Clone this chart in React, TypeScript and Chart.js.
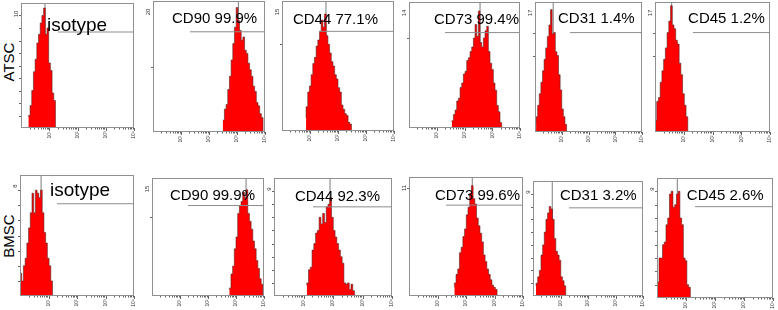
import React, { useEffect, useRef } from "react";
import { Chart, registerables } from "chart.js";
Chart.register(...registerables);

// ---------- data ----------
const BIN = 0.06; // histogram bin width in log decades
const xTickLabels = ["10¹", "10²", "10³", "10⁴"];
const rowLabels = ["ATSC", "BMSC"];

const atscLabels = ["isotype", "CD90 99.9%", "CD44 77.1%", "CD73 99.4%", "CD31 1.4%", "CD45 1.2%"];
const bmscLabels = ["isotype", "CD90 99.9%", "CD44 92.3%", "CD73 99.6%", "CD31 3.2%", "CD45 2.6%"];
const atscYMax = [10, 20, 15, 14, 17, 17];
const bmscYMax = [8, 15, 9, 11, 9, 9];

// first-bin start (decades), peak spike position (decades), gate start (decades)
const atscStart = [0.26, 2.49, 0.86, 1.54, 0.04, 0.0];
const bmscStart = [0.0, 2.76, 1.11, 1.59, 0.11, 0.01];
const atscSpike = [0.85, 3.05, 1.57, 2.56, 0.68, 0.58];
const bmscSpike = [0.74, 3.36, 1.9, 2.22, 0.7, 0.7];
const atscGate = [1.31, 1.32, 1.32, 1.3, 1.31, 1.32];
const bmscGate = [1.3, 1.29, 1.32, 1.3, 1.31, 1.31];

const atscIsotype = [0.9, 1.0, 1.8, 3.0, 4.5, 5.5, 6.8, 7.5, 8.4, 9.0, 9.6, 7.5, 8.0, 5.2, 4.6, 2.8, 2.2];
const atscCD90 = [1.8, 1.8, 3.5, 4.2, 6.5, 8.5, 11, 13.5, 16, 19, 17, 15.5, 14, 14.5, 12.5, 12, 10.5, 9.5, 8.5, 7, 6.2, 4.5, 4, 2.8, 2.2];
const atscCD44 = [1.5, 2.8, 4.5, 5.2, 6.5, 7.8, 8.5, 9.8, 10.5, 11.5, 12.8, 12, 13.5, 11, 10, 9, 8, 7.5, 6.5, 6, 5, 4.5, 3, 2.5, 2, 1.8, 1, 0.8];
const atscCD73 = [0.7, 0.8, 1.5, 2, 3, 3.3, 4.5, 5, 6, 6.3, 7.5, 7.8, 8.5, 9, 10, 11.5, 10.2, 13, 9.5, 9, 10, 10.8, 11.3, 8.5, 7.2, 6.5, 5, 4.2, 2.5, 1.8, 0.6];
const atscCD31 = [1, 2, 3.5, 5, 6.5, 8, 9.5, 11, 12.5, 14, 16, 12.8, 13, 10.5, 10, 7.5, 5.5, 3, 2, 1];
const atscCD45 = [1, 1.5, 4, 4.5, 6.5, 8, 9.5, 11, 13, 14.5, 16.5, 14, 13.5, 12, 11.5, 9, 7.5, 5, 3.5, 2];

const bmscIsotype = [2, 1.5, 1, 2, 2.5, 3.5, 4.5, 5.5, 6.8, 5.5, 7, 6.8, 6.5, 7, 5.5, 4.2, 3.5, 2.5, 2, 1];
const bmscCD90 = [0.8, 1, 2.8, 3.8, 6, 7.5, 10.5, 11.5, 12, 13.2, 12.5, 13.5, 10.5, 9.5, 8.5, 7, 6, 4.5, 3.5, 2.2, 1.5];
const bmscCD44 = [0.8, 1, 2, 2.2, 3.5, 4, 4.8, 5, 6, 5.5, 6.3, 5.6, 6.8, 7, 7.5, 6, 5, 4.5, 4, 3.5, 3, 2.5, 1, 0.9, 1, 0.5, 0.9, 0.4];
const bmscCD73 = [0.8, 1.2, 2, 2.5, 4, 4.5, 5.5, 6.2, 7.5, 8.2, 9.5, 10.2, 9, 8.5, 7.2, 6.5, 5.8, 5, 3.8, 3.2, 2.5, 2, 1.5, 1, 0.8, 0.6];
const bmscCD31 = [0.8, 1, 1.5, 2, 3.2, 4, 5, 6, 6.5, 7, 6.8, 6, 4.5, 3.5, 3.2, 2.8, 1.5, 1.2, 0.8];
const bmscCD45 = [1, 1.2, 3, 3, 4, 4.2, 5.5, 6, 7.8, 8, 6.8, 7, 7.8, 8, 6, 5.5, 3, 2.8, 1, 0.8];

const atscCounts = [atscIsotype, atscCD90, atscCD44, atscCD73, atscCD31, atscCD45];
const bmscCounts = [bmscIsotype, bmscCD90, bmscCD44, bmscCD73, bmscCD31, bmscCD45];

// ---------- layout ----------
type Layout = {
  box: [number, number, number, number]; // l, t, r, b of plot area
  labelAt: [number, number]; // decade, value (text baseline-left)
  labelSize: number;
  gateY: number;
  yTicks: number[];
};

const atscLayout: Layout[] = [
  { box: [21, 3, 134, 128], labelAt: [0.92, 7.8], labelSize: 19, gateY: 7.68, yTicks: [1, 2, 3, 4, 5, 6, 7, 8, 9] },
  { box: [153, 1, 265, 132], labelAt: [0.68, 16.6], labelSize: 15, gateY: 15.3, yTicks: [10] },
  { box: [282, 1, 394, 131], labelAt: [0.39, 12.4], labelSize: 15, gateY: 11.5, yTicks: [10] },
  { box: [409, 2, 520, 128], labelAt: [0.9, 11.6], labelSize: 15, gateY: 10.6, yTicks: [10] },
  { box: [535, 2, 642, 132], labelAt: [0.86, 14.3], labelSize: 15, gateY: 13.0, yTicks: [10, 13] },
  { box: [655, 2, 770, 132], labelAt: [1.15, 14.2], labelSize: 15, gateY: 13.0, yTicks: [10, 13] },
];
const bmscLayout: Layout[] = [
  { box: [20, 175, 134, 296], labelAt: [1.05, 6.6], labelSize: 19, gateY: 6.1, yTicks: [1, 2, 3, 4, 5, 6, 7] },
  { box: [152, 178, 264, 296], labelAt: [0.64, 12.2], labelSize: 15, gateY: 11.5, yTicks: [10] },
  { box: [274, 178, 392, 296], labelAt: [0.71, 7.26], labelSize: 15, gateY: 6.8, yTicks: [1, 2, 3, 4, 5, 6, 7, 8] },
  { box: [409, 177, 523, 296], labelAt: [0.91, 8.9], labelSize: 15, gateY: 8.4, yTicks: [10] },
  { box: [533, 181, 643, 296], labelAt: [0.98, 7.5], labelSize: 15, gateY: 6.9, yTicks: [1, 2, 3, 4, 5, 6, 7, 8] },
  { box: [657, 178, 773, 298], labelAt: [1.03, 7.37], labelSize: 15, gateY: 6.85, yTicks: [1, 2, 3, 4, 5, 6, 7, 8] },
];

const PAD = { left: 16, right: 4, top: 4, bottom: 14 };
const FONT = '"Liberation Sans", Arial, Helvetica, sans-serif';

type Spec = {
  counts: number[];
  start: number;
  spike: number;
  gate: number;
  yMax: number;
  label: string;
  layout: Layout;
};

function Panel({ spec }: { spec: Spec }) {
  const ref = useRef<HTMLCanvasElement>(null);
  const [l, t, r, b] = spec.layout.box;
  const w = r - l + PAD.left + PAD.right;
  const h = b - t + PAD.top + PAD.bottom;

  useEffect(() => {
    const hist = spec.counts.map((c, i) => ({ x: spec.start + i * BIN, y: c }));
    hist.push({ x: spec.start + spec.counts.length * BIN, y: 0 });

    const frame = {
      id: "frame",
      afterDraw(chart: any) {
        const { ctx, chartArea: a, scales } = chart;
        const xs = scales.x;
        const ys = scales.y;
        ctx.save();
        // box
        ctx.strokeStyle = "#8f8f8f";
        ctx.lineWidth = 1;
        ctx.strokeRect(
          Math.round(a.left) + 0.5,
          Math.round(a.top) + 0.5,
          Math.round(a.right - a.left) - 1,
          Math.round(a.bottom - a.top) - 1
        );
        // y ticks
        ctx.strokeStyle = "#666";
        for (const v of spec.layout.yTicks) {
          const py = Math.round(ys.getPixelForValue(v)) + 0.5;
          ctx.beginPath();
          ctx.moveTo(a.left - 2, py);
          ctx.lineTo(a.left, py);
          ctx.stroke();
        }
        // x log ticks
        for (let d = 0; d < 4; d++) {
          for (let k = 2; k <= 10; k++) {
            const px = Math.round(xs.getPixelForValue(d + Math.log10(k))) + 0.5;
            const len = k === 10 ? 3 : 1.5;
            ctx.beginPath();
            ctx.moveTo(px, a.bottom);
            ctx.lineTo(px, a.bottom + len);
            ctx.stroke();
          }
        }
        // y max label (rotated)
        ctx.fillStyle = "#333";
        ctx.font = `6px ${FONT}`;
        ctx.textAlign = "center";
        ctx.textBaseline = "middle";
        ctx.save();
        ctx.translate(a.left - 5, a.top + 11);
        ctx.rotate(-Math.PI / 2);
        ctx.fillText(String(spec.yMax), 0, 0);
        ctx.restore();
        // x tick labels
        ctx.font = `5px ${FONT}`;
        xTickLabels.forEach((txt, i) => {
          const px = xs.getPixelForValue(i + 1);
          ctx.save();
          ctx.translate(px, a.bottom + 7);
          ctx.rotate(-Math.PI / 2);
          ctx.fillText(txt, 0, 0);
          ctx.restore();
        });
        // panel label
        ctx.fillStyle = "#000";
        ctx.font = `${spec.layout.labelSize}px ${FONT}`;
        ctx.textAlign = "left";
        ctx.textBaseline = "alphabetic";
        ctx.fillText(
          spec.label,
          xs.getPixelForValue(spec.layout.labelAt[0]),
          ys.getPixelForValue(spec.layout.labelAt[1])
        );
        ctx.restore();
      },
    };

    const chart = new Chart(ref.current as HTMLCanvasElement, {
      type: "line",
      data: {
        datasets: [
          {
            data: [
              { x: spec.gate, y: spec.layout.gateY },
              { x: 4, y: spec.layout.gateY },
            ],
            borderColor: "#8c8c8c",
            borderWidth: 1,
            pointRadius: 0,
            order: 1,
          },
          {
            data: hist,
            stepped: "after",
            fill: "origin",
            backgroundColor: "#ff0000",
            borderColor: "rgba(80,30,30,0.7)",
            borderWidth: 0.8,
            pointRadius: 0,
            order: 2,
          },
          {
            data: [
              { x: spec.spike, y: 0 },
              { x: spec.spike, y: spec.yMax },
            ],
            borderColor: "rgba(110,110,110,0.9)",
            borderWidth: 1,
            pointRadius: 0,
            order: 3,
          },
        ],
      } as any,
      options: {
        animation: false,
        responsive: false,
        events: [],
        layout: { padding: PAD },
        plugins: { legend: { display: false }, tooltip: { enabled: false } },
        scales: {
          x: { type: "linear", min: 0, max: 4, display: false },
          y: { type: "linear", min: 0, max: spec.yMax, display: false },
        },
      } as any,
      plugins: [frame],
    });
    return () => chart.destroy();
  }, []);

  return (
    <canvas
      ref={ref}
      width={w}
      height={h}
      style={{ position: "absolute", left: l - PAD.left, top: t - PAD.top, width: w, height: h }}
    />
  );
}

export default function App() {
  const specs: Spec[] = [];
  for (let i = 0; i < 6; i++) {
    specs.push({
      counts: atscCounts[i], start: atscStart[i], spike: atscSpike[i], gate: atscGate[i],
      yMax: atscYMax[i], label: atscLabels[i], layout: atscLayout[i],
    });
  }
  for (let i = 0; i < 6; i++) {
    specs.push({
      counts: bmscCounts[i], start: bmscStart[i], spike: bmscSpike[i], gate: bmscGate[i],
      yMax: bmscYMax[i], label: bmscLabels[i], layout: bmscLayout[i],
    });
  }
  const rowStyle = (cy: number): React.CSSProperties => ({
    position: "absolute",
    left: 8,
    top: cy,
    transform: "translate(-50%, -50%) rotate(-90deg)",
    fontFamily: FONT,
    fontSize: 15,
    color: "#000",
    whiteSpace: "nowrap",
    lineHeight: 1,
  });
  return (
    <div style={{ position: "fixed", left: 0, top: 0, width: 778, height: 310, background: "#fff", overflow: "hidden" }}>
      <div style={rowStyle(62)}>{rowLabels[0]}</div>
      <div style={rowStyle(236)}>{rowLabels[1]}</div>
      {specs.map((s, i) => (
        <Panel key={i} spec={s} />
      ))}
    </div>
  );
}
